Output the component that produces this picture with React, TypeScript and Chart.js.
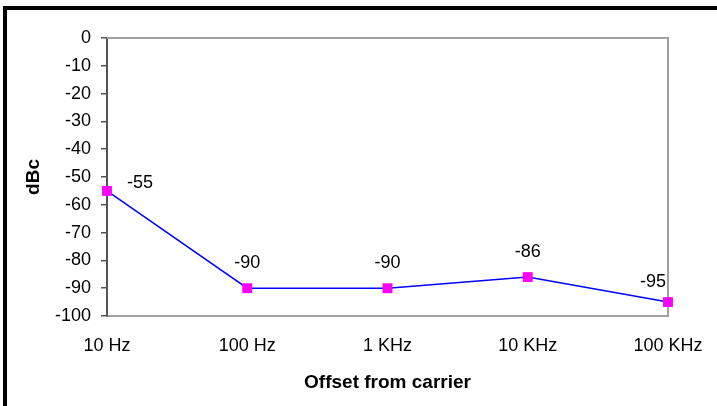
import React, { useEffect, useRef } from "react";
import { Chart, registerables } from "chart.js";

Chart.register(...registerables);

const categories = ["10 Hz", "100 Hz", "1 KHz", "10 KHz", "100 KHz"];
const dbcValues = [-55, -90, -90, -86, -95];
const yMin = -100;
const yMax = 0;
const yStep = 10;
const xTitle = "Offset from carrier";
const yTitle = "dBc";

const FONT = "'Liberation Sans', Arial, sans-serif";

const framePlugin = {
  id: "frame",
  beforeDraw(chart: any) {
    const { ctx, width, height } = chart;
    ctx.save();
    ctx.fillStyle = "#ffffff";
    ctx.fillRect(0, 0, width, height);
    ctx.fillStyle = "#000000";
    ctx.fillRect(3, 6, width - 3, 4);
    ctx.fillRect(3, 6, 4, height - 6);
    ctx.restore();
  },
  beforeDatasetsDraw(chart: any) {
    const { ctx, chartArea: a } = chart;
    ctx.save();
    ctx.strokeStyle = "#a0a0a0";
    ctx.lineWidth = 2;
    ctx.beginPath();
    ctx.moveTo(a.left, a.top);
    ctx.lineTo(a.right, a.top);
    ctx.lineTo(a.right, a.bottom);
    ctx.stroke();
    ctx.restore();
  },
};

const labelPlugin = {
  id: "pointLabels",
  afterDatasetsDraw(chart: any) {
    const { ctx, chartArea: a } = chart;
    const meta = chart.getDatasetMeta(0);
    const data = chart.data.datasets[0].data as number[];
    ctx.save();
    ctx.font = `18px ${FONT}`;
    ctx.fillStyle = "#000000";
    ctx.textBaseline = "middle";
    ctx.textAlign = "center";
    meta.data.forEach((pt: any, i: number) => {
      const text = String(data[i]);
      const w = ctx.measureText(text).width;
      let x = pt.x;
      let y = pt.y - 25;
      if (x - w / 2 < a.left) {
        x = pt.x + 20 + w / 2;
        y = pt.y - 8;
      } else if (x + w / 2 > a.right) {
        x = a.right - 2 - w / 2;
        y = pt.y - 20;
      }
      ctx.fillText(text, x, y);
    });
    ctx.restore();
  },
};

export default function App() {
  const ref = useRef<HTMLCanvasElement>(null);
  useEffect(() => {
    if (!ref.current) return;
    const chart = new Chart(ref.current, {
      type: "line",
      data: {
        labels: categories,
        datasets: [
          {
            data: dbcValues,
            borderColor: "#0000ff",
            borderWidth: 1.5,
            backgroundColor: "#ff00ff",
            pointStyle: "rect",
            pointRadius: 7,
            pointBorderWidth: 0,
            pointBackgroundColor: "#ff00ff",
            pointBorderColor: "#ff00ff",
            tension: 0,
            clip: false as any,
          },
        ],
      },
      options: {
        animation: false,
        responsive: false,
        maintainAspectRatio: false,
        layout: { padding: { left: 10, top: 38, right: 49, bottom: 0 } },
        plugins: { legend: { display: false }, tooltip: { enabled: false } },
        scales: {
          x: {
            type: "category",
            offset: false,
            grid: { display: false, drawTicks: false },
            border: { display: true, color: "#a0a0a0", width: 2 },
            ticks: {
              color: "#000000",
              font: { family: FONT, size: 18 },
              padding: 19,
              maxRotation: 0,
              autoSkip: false,
            },
            title: {
              display: true,
              text: xTitle,
              color: "#000000",
              font: { family: FONT, size: 19, weight: "bold" },
              padding: { top: 0, bottom: 12 },
            },
            afterFit(scale: any) {
              scale.height = 90;
              scale.paddingRight = 0;
              scale.paddingLeft = 0;
            },
          },
          y: {
            min: yMin,
            max: yMax,
            grid: {
              display: true,
              drawOnChartArea: false,
              drawTicks: true,
              tickLength: 6,
              color: "#555555",
              lineWidth: 1.5,
            },
            border: { display: true, color: "#555555", width: 2 },
            ticks: {
              stepSize: yStep,
              color: "#000000",
              font: { family: FONT, size: 18 },
              padding: 10,
            },
            title: {
              display: true,
              text: yTitle,
              color: "#000000",
              font: { family: FONT, size: 19, weight: "bold" },
              padding: { top: 12, bottom: 0 },
            },
            afterFit(scale: any) {
              scale.width = 97;
            },
          },
        },
      },
      plugins: [framePlugin, labelPlugin],
    });
    return () => chart.destroy();
  }, []);
  return (
    <div style={{ position: "fixed", left: 0, top: 0, width: 717, height: 406 }}>
      <canvas ref={ref} width={717} height={406} style={{ display: "block" }} />
    </div>
  );
}
